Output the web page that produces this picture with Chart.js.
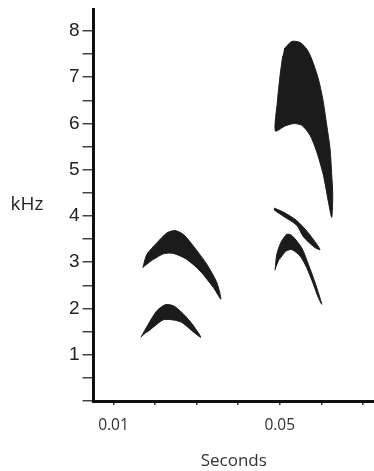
<!DOCTYPE html>
<html>
<head>
<meta charset="utf-8">
<script src="https://cdn.jsdelivr.net/npm/chart.js@4"></script>
<style>
  html, body { margin: 0; padding: 0; background: #fff; }
  .spectro { position: relative; width: 374px; height: 471px; }
</style>
</head>
<body>
<div class="spectro"><canvas id="chart"></canvas></div>
<script>
// outlines of each syllable: time (s) and frequency (kHz), traced clockwise
const lowArcT   = [0.01659, 0.01841, 0.02043, 0.02243, 0.02442, 0.02683, 0.02923, 0.03101, 0.02885, 0.02644, 0.02442, 0.02202, 0.02002, 0.01803];
const lowArcKHz = [1.377, 1.665, 1.951, 2.080, 2.058, 1.880, 1.628, 1.377, 1.521, 1.699, 1.751, 1.757, 1.628, 1.484];

const midArcT   = [0.01707, 0.01803, 0.02043, 0.02284, 0.02483, 0.02683, 0.02923, 0.03245, 0.03486, 0.03582, 0.03404, 0.03084, 0.02764, 0.02442, 0.02202, 0.01962];
const midArcKHz = [2.881, 3.169, 3.418, 3.633, 3.684, 3.598, 3.347, 2.954, 2.559, 2.202, 2.451, 2.810, 3.061, 3.190, 3.182, 3.061];

const highNoteT   = [0.05103, 0.05288, 0.05488, 0.05649, 0.05769, 0.05928, 0.06034, 0.06130, 0.06209, 0.06250, 0.06274, 0.06250, 0.06168, 0.06048, 0.05889, 0.05728, 0.05529, 0.05327, 0.05127, 0.04894, 0.04942, 0.05007, 0.05072];
const highNoteKHz = [7.607, 7.772, 7.751, 7.607, 7.392, 6.962, 6.533, 5.961, 5.459, 4.887, 4.458, 3.970, 4.314, 4.887, 5.388, 5.747, 5.961, 5.996, 5.946, 5.839, 6.462, 7.035, 7.465];

const sweepT   = [0.04863, 0.05087, 0.05409, 0.05688, 0.05969, 0.05849, 0.05567, 0.05409, 0.05072, 0.04863];
const sweepKHz = [4.170, 4.084, 3.899, 3.633, 3.276, 3.315, 3.551, 3.798, 4.002, 4.131];

const hookT   = [0.04887, 0.04928, 0.05031, 0.05175, 0.05296, 0.05529, 0.05688, 0.05849, 0.05952, 0.06010, 0.05928, 0.05808, 0.05649, 0.05488, 0.05296, 0.05151, 0.04990];
const hookKHz = [2.825, 3.169, 3.433, 3.605, 3.573, 3.310, 2.954, 2.559, 2.273, 2.090, 2.236, 2.524, 2.881, 3.132, 3.272, 3.240, 3.061];

const xTickLabels = ['0.01', '0.05'];
const yTickLabels = ['1', '2', '3', '4', '5', '6', '7', '8'];

const toPoints = (t, k) => t.map((v, i) => ({x: v, y: k[i]}));

const shapes = [
    toPoints(lowArcT, lowArcKHz),
    toPoints(midArcT, midArcKHz),
    toPoints(highNoteT, highNoteKHz),
    toPoints(sweepT, sweepKHz),
    toPoints(hookT, hookKHz)
];

const ink = '#1b1b1b';

// horizontal "kHz" label left of the axis
const sideLabel = {
    id: 'sideLabel',
    afterDraw(chart) {
        const ctx = chart.ctx;
        const y = chart.scales.y;
        ctx.save();
        ctx.font = '19px "Open Sans", sans-serif';
        ctx.fillStyle = '#222';
        ctx.textAlign = 'center';
        ctx.textBaseline = 'middle';
        ctx.fillText('kHz', 27, y.getPixelForValue(4.25));
        ctx.restore();
    }
};

new Chart(document.getElementById('chart'), {
    type: 'scatter',
    data: {
        datasets: shapes.map(pts => ({
            data: pts,
            showLine: true,
            fill: 'shape',
            backgroundColor: ink,
            borderColor: ink,
            borderWidth: 1,
            pointRadius: 0,
            tension: 0.25
        }))
    },
    options: {
        responsive: true,
        maintainAspectRatio: false,
        animation: false,
        layout: {padding: {top: 7, right: 0, left: 0, bottom: 0}},
        plugins: {legend: {display: false}, tooltip: {enabled: false}},
        scales: {
            x: {
                type: 'linear',
                min: 0.00519,
                max: 0.07267,
                afterFit: s => { s.height = 70; },
                border: {color: '#111', width: 3},
                grid: {drawOnChartArea: false, drawTicks: true, tickLength: 4, color: '#333', lineWidth: 1.5},
                ticks: {
                    stepSize: 0.01,
                    includeBounds: false,
                    autoSkip: false,
                    maxRotation: 0,
                    padding: 11,
                    color: '#333',
                    font: {family: '"Open Sans", sans-serif', size: 15.5},
                    callback: v => {
                        const s = v.toFixed(2);
                        return xTickLabels.includes(s) ? s : '';
                    }
                },
                title: {
                    display: true,
                    text: 'Seconds',
                    color: '#333',
                    font: {family: '"Open Sans", sans-serif', size: 17},
                    padding: {top: 0, bottom: 0}
                }
            },
            y: {
                type: 'linear',
                min: 0,
                max: 8.46,
                afterFit: s => { s.width = 93.5; },
                border: {color: '#111', width: 3},
                grid: {drawOnChartArea: false, drawTicks: true, tickLength: 11, color: '#444', lineWidth: 1.5},
                ticks: {
                    stepSize: 0.5,
                    includeBounds: false,
                    autoSkip: false,
                    padding: 3,
                    color: '#222',
                    font: {family: '"Liberation Sans", Arial, sans-serif', size: 19, lineHeight: 0.7},
                    callback: v => {
                        const s = String(v);
                        return yTickLabels.includes(s) ? s : '';
                    }
                }
            }
        }
    },
    plugins: [sideLabel]
});
</script>
</body>
</html>
